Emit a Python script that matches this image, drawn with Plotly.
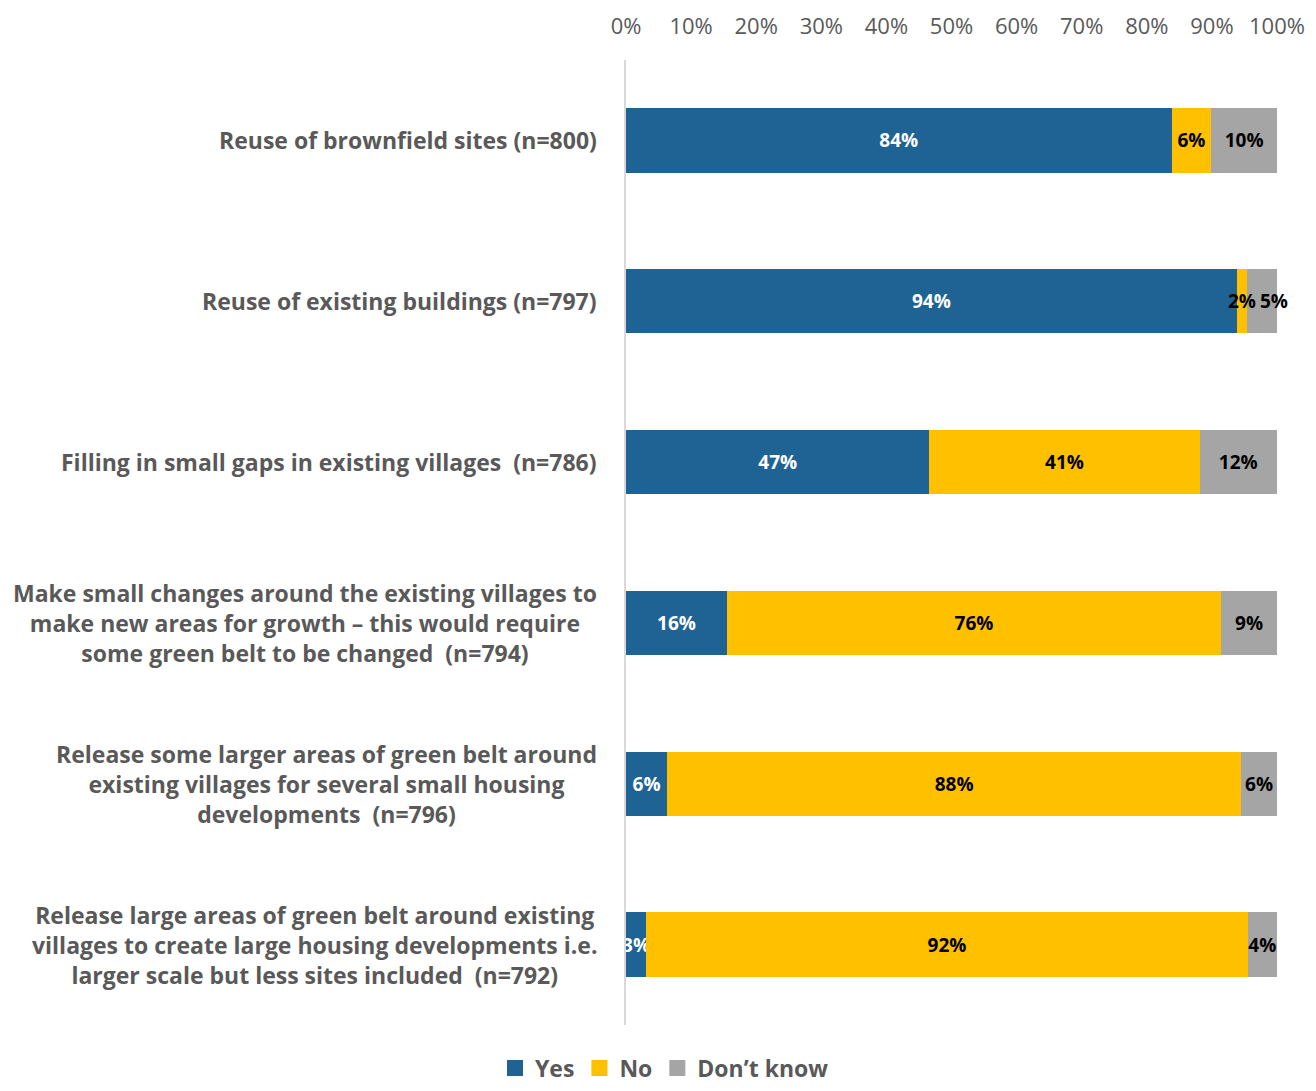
#!/usr/bin/env python3
"""Stacked horizontal bar chart: support for housing development options."""

import plotly.graph_objects as go

FONT = "Open Sans"
GREY_TEXT = "#595959"

categories = [
    "Reuse of brownfield sites (n=800)",
    "Reuse of existing buildings (n=797)",
    "Filling in small gaps in existing villages  (n=786)",
    "Make small changes around the existing villages to<br>make new areas for growth \u2013 this would require<br>some green belt to be changed  (n=794)",
    "Release some larger areas of green belt around<br>existing villages for several small housing<br>developments  (n=796)",
    "Release large areas of green belt around existing<br>villages to create large housing developments i.e.<br>larger scale but less sites included  (n=792)",
]

# bar lengths (share of respondents)
yes_values = [0.838, 0.938, 0.466, 0.155, 0.063, 0.031]
no_values = [0.061, 0.016, 0.415, 0.759, 0.882, 0.924]
dont_know_values = [0.101, 0.046, 0.119, 0.086, 0.055, 0.045]

# printed data labels
yes_labels = ["84%", "94%", "47%", "16%", "6%", "3%"]
no_labels = ["6%", "2%", "41%", "76%", "88%", "92%"]
dont_know_labels = ["10%", "5%", "12%", "9%", "6%", "4%"]

colours = {"Yes": "#1F6395", "No": "#FFC000", "Don\u2019t know": "#A5A5A5"}
text_colours = {"Yes": "white", "No": "black", "Don\u2019t know": "black"}
series = [
    ("Yes", yes_values, yes_labels),
    ("No", no_values, no_labels),
    ("Don\u2019t know", dont_know_values, dont_know_labels),
]

# row 2 has two thin slivers whose labels sit on top of the bars (5% nudged right)
THIN_ROW = 1

fig = go.Figure()
for name, values, labels in series:
    shown = list(labels)
    if name != "Yes":
        shown[THIN_ROW] = ""
    fig.add_trace(
        go.Bar(
            x=values,
            y=list(range(len(categories))),
            orientation="h",
            name=name,
            marker=dict(color=colours[name], line=dict(width=0)),
            text=shown,
            textposition="inside",
            insidetextanchor="middle",
            textangle=0,
            constraintext="none",
            textfont=dict(family=FONT, size=19, color=text_colours[name], weight="bold"),
            cliponaxis=False,
            hoverinfo="skip",
            showlegend=False,
        )
    )

# labels for the thin slivers, placed from the data (segment middles) plus a shift
row = THIN_ROW
no_mid = yes_values[row] + no_values[row] / 2
dk_mid = yes_values[row] + no_values[row] + dont_know_values[row] / 2
for mid, text, shift in [(no_mid, no_labels[row], 0), (dk_mid, dont_know_labels[row], 12)]:
    fig.add_annotation(
        x=mid,
        y=row,
        xref="x",
        yref="y",
        xshift=shift,
        text=text,
        showarrow=False,
        font=dict(family=FONT, size=19, color="black", weight="bold"),
    )

# legend entries with larger square swatches
for name, _, _ in series:
    fig.add_trace(
        go.Scatter(
            x=[None],
            y=[None],
            mode="markers",
            name=name,
            marker=dict(symbol="square", size=16, color=colours[name]),
            hoverinfo="skip",
        )
    )

for idx, label in enumerate(categories):
    fig.add_annotation(
        x=0,
        y=idx,
        xref="paper",
        yref="y",
        xanchor="right",
        yanchor="middle",
        xshift=-27,
        align="center",
        text=label,
        showarrow=False,
        font=dict(family=FONT, size=23, color=GREY_TEXT, weight="bold"),
    )

fig.update_layout(
    barmode="stack",
    bargap=0.6,
    width=1300,
    height=1075,
    margin=dict(l=618, r=31, t=52, b=58),
    paper_bgcolor="white",
    plot_bgcolor="white",
    font=dict(family=FONT, color=GREY_TEXT),
    showlegend=True,
    legend=dict(
        orientation="h",
        xref="container",
        yref="container",
        x=0.505,
        y=0.014,
        xanchor="center",
        yanchor="middle",
        font=dict(family=FONT, size=23, color=GREY_TEXT, weight="bold"),
        itemwidth=30,
        traceorder="normal",
    ),
)
fig.update_xaxes(
    side="top",
    range=[0, 1],
    tickvals=[i / 10 for i in range(11)],
    tickformat=".0%",
    showgrid=False,
    zeroline=False,
    showline=False,
    ticks="",
    automargin=False,
    ticklabelstandoff=21,
    tickfont=dict(family=FONT, size=22, color=GREY_TEXT),
)
fig.update_yaxes(
    range=[len(categories) - 0.5, -0.5],
    showticklabels=False,
    showgrid=False,
    zeroline=False,
    showline=True,
    linecolor="#D9D9D9",
    linewidth=2,
    ticks="",
    automargin=False,
)

fig.write_html("out.html")
